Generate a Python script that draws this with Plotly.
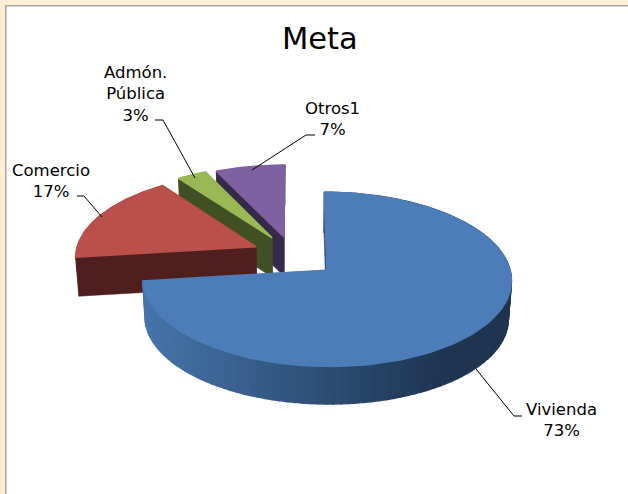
"""
Meta: exploded 3D style pie, drawn as filled scatter polygons
"""
import numpy as np
import plotly.graph_objects as go

categories = ['Vivienda', 'Comercio', 'Admón.<br>Pública', 'Otros1']
values = [73, 17, 3, 7]
top_colors = ['#4c7db8', '#bb4f4c', '#98b954', '#7f60a0']
wall_colors = ['#2b4768', '#4f1f1e', '#404f24', '#352a49']

# pie geometry in pixels, the axes run 1:1 with the page
CX, CY = 302, 260
RX, RY = 181, 84
PERSP = 0.105
DEPTH = 39
BOTTOM_SCALE = 0.985
EXPLODE = [0.18, 0.28, 0.30, 0.29]
NUDGE_X = [0, 0, -3, -7]
NUDGE_Y = [0, -4, -1, 0]

fig = go.Figure()


def project(u, v, bottom=False):
    d = 1 + PERSP * v
    s = BOTTOM_SCALE if bottom else 1
    return CX + u * RX * s / d, CY - v * RY * s / d + (DEPTH if bottom else 0)


def poly(x, y, color, width=0.5):
    fig.add_trace(go.Scatter(x=list(x), y=list(y), mode='lines', fill='toself', fillcolor=color,
                             line=dict(color=color, width=width), hoverinfo='skip', showlegend=False))


def mix(c1, c2, t):
    a = [int(c1[i:i + 2], 16) for i in (1, 3, 5)]
    b = [int(c2[i:i + 2], 16) for i in (1, 3, 5)]
    return 'rgb(%d,%d,%d)' % tuple(a[i] + (b[i] - a[i]) * t for i in range(3))


def draw_slice(i, start, stop):
    mid = (start + stop) / 2
    ou, ov = EXPLODE[i] * np.sin(mid), EXPLODE[i] * np.cos(mid)
    th = np.linspace(start, stop, 120)
    u, v = ou + np.sin(th), ov + np.cos(th)
    xt, yt = project(u, v)
    xb, yb = project(u, v, True)
    ax, ay = project(ou, ov)
    bx, by = project(ou, ov, True)
    xt, xb, ax, bx = xt + NUDGE_X[i], xb + NUDGE_X[i], ax + NUDGE_X[i], bx + NUDGE_X[i]
    yt, yb, ay, by = yt + NUDGE_Y[i], yb + NUDGE_Y[i], ay + NUDGE_Y[i], by + NUDGE_Y[i]
    # cut walls
    poly([ax, xt[0], xb[0], bx, ax], [ay, yt[0], yb[0], by, ay], wall_colors[i])
    poly([ax, xt[-1], xb[-1], bx, ax], [ay, yt[-1], yb[-1], by, ay], wall_colors[i])
    # outer wall, the big slice gets a shaded one
    if i == 0:
        for k in range(len(th) - 1):
            t = min(1, max(0, (xt[k] - 147) / 300))
            c = mix('#4674ab', '#1f3550', t)
            poly([xt[k], xt[k + 1], xb[k + 1], xb[k], xt[k]], [yt[k], yt[k + 1], yb[k + 1], yb[k], yt[k]], c, 1.5)
    else:
        poly(np.r_[xt, xb[::-1], xt[0]], np.r_[yt, yb[::-1], yt[0]], wall_colors[i])
    poly(np.r_[ax, xt, ax], np.r_[ay, yt, ay], top_colors[i], 1.5)


edges = np.cumsum([0] + values) / sum(values) * 2 * np.pi
for i in [3, 2, 1, 0]:
    draw_slice(i, edges[i], edges[i + 1])

# leader lines
leaders = [
    ([476, 514, 522], [369, 416, 416]),
    ([102, 84, 77], [217, 196, 196]),
    ([195, 163, 155], [178, 120, 120]),
    ([252, 306, 315], [170, 135, 135]),
]
for lx, ly in leaders:
    fig.add_trace(go.Scatter(x=lx, y=ly, mode='lines', line=dict(color='#000000', width=1),
                             hoverinfo='skip', showlegend=False))

label_pos = [(561, 420), (51, 181), (135, 94), (332, 119)]
for name, val, (px, py) in zip(categories, values, label_pos):
    fig.add_annotation(x=px, y=py, text='%s<br>%d%%' % (name, val), showarrow=False, align='center',
                       font=dict(family='DejaVu Sans', size=16.5, color='#000000'))
fig.add_annotation(x=320, y=38, text='Meta', showarrow=False,
                   font=dict(family='DejaVu Sans', size=30.5, color='#000000'))

fig.update_layout(
    width=628, height=494,
    margin=dict(l=0, r=0, t=0, b=0),
    paper_bgcolor='#fdeed4',
    plot_bgcolor='rgba(0,0,0,0)',
    xaxis=dict(range=[0, 628], visible=False, fixedrange=True),
    yaxis=dict(range=[494, 0], visible=False, fixedrange=True),
    shapes=[dict(type='rect', x0=5.75, y0=5.75, x1=650, y1=510, layer='below',
                 fillcolor='#ffffff', line=dict(color='#a6a6a6', width=1.5))],
)

# the page keeps its default 8px body margin otherwise
fig.write_html('out.html', config={'displayModeBar': False}, post_script='document.body.style.margin = "0";')
